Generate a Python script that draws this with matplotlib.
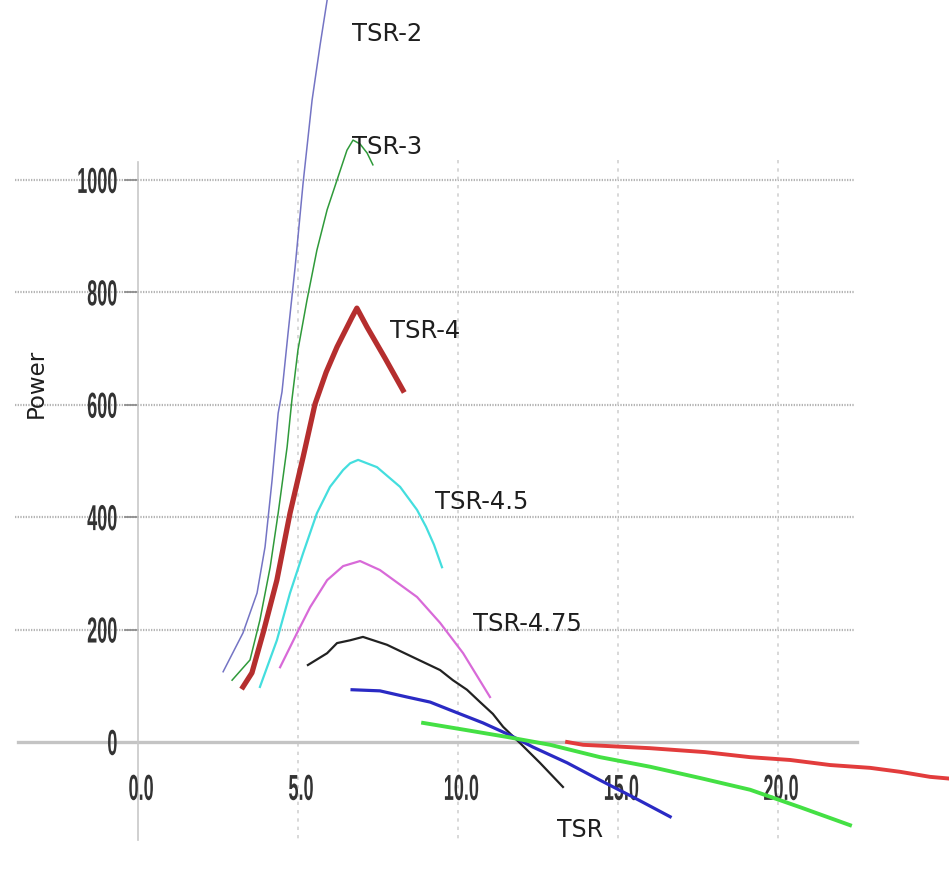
import numpy as np
import matplotlib
matplotlib.use("Agg")
import matplotlib.pyplot as plt
from matplotlib.patheffects import AbstractPathEffect
from matplotlib.transforms import Affine2D


# curves: (TSR, Power)
tsr2_x = [2.66, 3.28, 3.72, 3.97, 4.19, 4.38, 4.50, 4.69, 4.91, 5.16, 5.44, 5.69, 5.91, 6.00]
tsr2_y = [125, 194, 265, 347, 466, 585, 623, 728, 845, 995, 1142, 1240, 1320, 1347]

tsr3_x = [2.94, 3.50, 3.81, 4.13, 4.38, 4.66, 4.81, 5.00, 5.28, 5.59, 5.91, 6.22, 6.53,
          6.72, 6.94, 7.16, 7.34]
tsr3_y = [110, 146, 217, 311, 407, 525, 609, 698, 786, 875, 947, 1000, 1053,
          1071, 1064, 1048, 1027]

tsr4_x = [3.28, 3.56, 3.91, 4.34, 4.75, 5.16, 5.53, 5.88, 6.22, 6.69, 6.84, 7.16, 7.72, 8.28]
tsr4_y = [98, 123, 194, 288, 407, 507, 601, 658, 703, 756, 772, 738, 683, 626]

tsr45_x = [3.81, 4.34, 4.75, 5.16, 5.59, 6.00, 6.41, 6.63, 6.88, 7.47, 8.19, 8.72, 9.00,
           9.25, 9.50]
tsr45_y = [98, 181, 265, 336, 407, 454, 484, 496, 502, 489, 454, 413, 383, 351, 311]

tsr475_x = [4.44, 4.97, 5.38, 5.91, 6.41, 6.94, 7.56, 8.72, 9.44, 10.16, 11.00]
tsr475_y = [133, 194, 240, 288, 313, 322, 306, 258, 212, 158, 80]

tsr5_x = [5.31, 5.91, 6.22, 6.63, 7.03, 7.78, 8.59, 9.44, 9.84, 10.28, 10.69, 11.09,
          11.41, 11.94, 12.56, 13.28]
tsr5_y = [137, 158, 176, 181, 187, 173, 151, 128, 110, 93, 71, 50, 27, -2, -37, -80]

tsr6_x = [6.69, 7.56, 8.41, 9.13, 9.75, 10.78, 11.63, 12.34, 13.41, 14.44, 15.47, 16.63]
tsr6_y = [93, 91, 80, 71, 57, 34, 12, -9, -37, -68, -98, -133]

tsr7_x = [8.91, 10.28, 11.53, 12.88, 14.44, 16.00, 17.56, 19.13, 20.69, 22.25]
tsr7_y = [34, 21, 9, -5, -27, -44, -64, -85, -116, -148]

tsr8_x = [13.41, 13.91, 16.00, 17.72, 19.13, 20.38, 21.63, 22.88, 23.81, 24.75, 25.53]
tsr8_y = [0, -5, -11, -18, -27, -32, -41, -46, -53, -62, -66]

x_ticks = [0, 5, 10, 15, 20]
x_labels = ["0.0", "5.0", "10.0", "15.0", "20.0"]
y_ticks = [0, 200, 400, 600, 800, 1000]
y_labels = ["0", "200", "400", "600", "800", "1000"]

curve_names = ["TSR-2", "TSR-3", "TSR-4", "TSR-4.5", "TSR-4.75"]


# squeezes glyphs horizontally so the tick labels look condensed
class Squeeze(AbstractPathEffect):
    def __init__(self, sx, anchor="center"):
        super().__init__()
        self.sx = sx
        self.anchor = anchor

    def draw_path(self, renderer, gc, tpath, affine, rgbFace=None):
        x0, y0, x1, y1 = tpath.get_extents().extents
        cx = {"left": x0, "center": (x0 + x1) / 2, "right": x1}[self.anchor]
        t = Affine2D().translate(-cx, 0).scale(self.sx, 1).translate(cx, 0) + affine
        renderer.draw_path(gc, tpath, t, rgbFace)


def draw_frame(ax):
    # dotted grid, zero line and the thin y axis
    for v in y_ticks[1:]:
        ax.plot([-3.84, 22.4], [v, v], color="#b4b4b4", lw=1.6,
                ls=(0, (0.6, 0.6)), zorder=1)
        ax.plot([-0.4, 0], [v, v], color="#888888", lw=1.2, zorder=1)
    for v in x_ticks[1:]:
        ax.plot([v, v], [1035, -178], color="#d2d2d2", lw=1.2,
                ls=(0, (2, 3)), zorder=1)
    ax.plot([-3.75, 22.47], [0, 0], color="#c4c4c4", lw=2.4, zorder=1)
    ax.plot([0, 0], [1032, -174], color="#c8c8c8", lw=1.2, zorder=1)


def draw_ticks(ax):
    for v, s in zip(y_ticks, y_labels):
        ax.text(-0.62, v - 23, s, ha="right", va="baseline", fontsize=26,
                family="Liberation Sans", weight="bold", color="#333333",
                path_effects=[Squeeze(0.5, "right")])
    for v, s in zip(x_ticks, x_labels):
        ax.text(v + 0.1, -103, s, ha="center", va="baseline", fontsize=26,
                family="Liberation Sans", weight="bold", color="#333333",
                path_effects=[Squeeze(0.5, "center")])


def draw_curves(ax):
    ax.plot(tsr2_x, tsr2_y, color="#7474c4", lw=1.1, zorder=3)
    ax.plot(tsr3_x, tsr3_y, color="#2f9a3a", lw=1.1, zorder=3)
    ax.plot(tsr4_x, tsr4_y, color="#b52e2e", lw=3.8, zorder=4,
            solid_joinstyle="round")
    ax.plot(tsr45_x, tsr45_y, color="#44dede", lw=1.6, zorder=3)
    ax.plot(tsr475_x, tsr475_y, color="#d86ad8", lw=1.6, zorder=3)
    ax.plot(tsr5_x, tsr5_y, color="#222222", lw=1.6, zorder=3)
    ax.plot(tsr6_x, tsr6_y, color="#2a2ac4", lw=2.3, zorder=3)
    ax.plot(tsr7_x, tsr7_y, color="#44e044", lw=2.8, zorder=3)
    ax.plot(tsr8_x, tsr8_y, color="#e23c3c", lw=2.8, zorder=3)


def draw_labels(ax):
    spots = [(6.69, 1247), (6.69, 1046), (7.88, 719), (9.28, 415), (10.47, 198)]
    for (x, y), name in zip(spots, curve_names):
        ax.text(x, y, name, ha="left", va="baseline", fontsize=17.5,
                family="DejaVu Sans", color="#1e1e1e", zorder=5)
    ax.text(13.81, -169, "TSR", ha="center", va="baseline", fontsize=17,
            family="DejaVu Sans", color="#1e1e1e")
    ax.text(-3.19, 639, "Power", ha="center", va="center", rotation=90,
            fontsize=16.5, family="DejaVu Sans", color="#1e1e1e")


def main():
    fig = plt.figure(figsize=(9.49, 8.73), dpi=100)
    ax = fig.add_axes([0, 0, 1, 1])
    ax.set_xlim(-138 / 32, (949 - 138) / 32)
    ax.set_ylim((742 - 873) / 0.562, 742 / 0.562)
    ax.axis("off")
    draw_frame(ax)
    draw_ticks(ax)
    draw_curves(ax)
    draw_labels(ax)
    fig.savefig("out.png", dpi=100, facecolor="white")


main()
